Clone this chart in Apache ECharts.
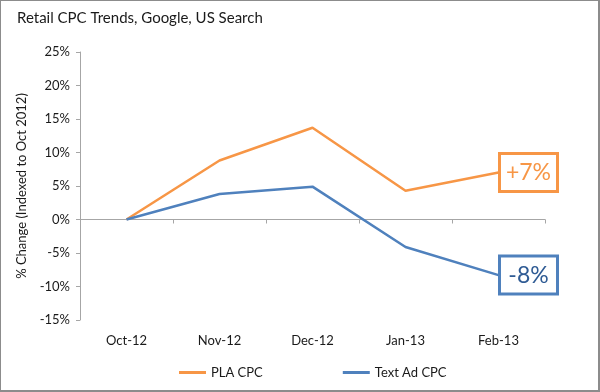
<!DOCTYPE html>
<html><head><meta charset="utf-8">
<script src="https://cdn.jsdelivr.net/npm/echarts@6/dist/echarts.min.js"></script>
<style>html,body{margin:0;padding:0;background:#fff}#c{width:600px;height:392px;box-sizing:border-box;border:1px solid #8c8c8c;border-right-width:2px;border-bottom-width:2px}</style>
</head><body><div id="c"></div>
<script>
const categories = ['Oct-12','Nov-12','Dec-12','Jan-13','Feb-13'];
const plaCpc = [0, 8.8, 13.7, 4.3, 7.0];
const textAdCpc = [0, 3.8, 4.9, -4.1, -8.3];
const plaLabel = '+7%';
const textLabel = '-8%';
const yTicks = {min: -15, max: 25, interval: 5};

const FONT = 'Lato, "Open Sans", sans-serif';
const chart = echarts.init(document.getElementById('c'), null, {renderer: 'canvas'});
function lastLabel(arr, text, color, textColor) {
  return arr.map((v, i) => i === arr.length - 1 ? {
    value: v,
    label: {show: true, position: 'inside', offset: [30, 0], formatter: text,
      color: textColor, fontSize: 23, fontFamily: FONT, backgroundColor: '#fff',
      borderColor: color, borderWidth: 3, padding: [7, 3, 5, 3], width: 49, align: 'center'}
  } : v);
}
chart.setOption({
  animation: false,
  title: {text: 'Retail CPC Trends, Google, US Search', left: 11, top: 5,
    textStyle: {fontSize: 15, fontWeight: 'normal', color: '#1a1a1a', fontFamily: FONT}},
  grid: {left: 79, right: 53, top: 51, bottom: 70, outerBoundsMode: 'none', containLabel: false},
  legend: {top: 360, left: 173, itemGap: 80, itemWidth: 27, itemHeight: 3,
    textStyle: {fontSize: 13, color: '#1a1a1a', fontFamily: FONT},
    icon: 'rect',
    data: ['PLA CPC', 'Text Ad CPC']},
  xAxis: [
    {type: 'category', data: categories, boundaryGap: true,
     axisLine: {onZero: true, lineStyle: {color: '#a6a6a6', width: 1}},
     axisTick: {show: true, length: 4, lineStyle: {color: '#a6a6a6'}},
     axisLabel: {show: false}},
    {type: 'category', data: categories, boundaryGap: true, position: 'bottom',
     axisLine: {show: false, onZero: false}, axisTick: {show: false},
     axisLabel: {color: '#1a1a1a', fontSize: 13, fontFamily: FONT, interval: 0, margin: 14}}
  ],
  yAxis: {type: 'value', min: yTicks.min, max: yTicks.max, interval: yTicks.interval,
    name: '% Change (Indexed to Oct 2012)', nameLocation: 'middle', nameGap: 52,
    nameTextStyle: {fontSize: 13, color: '#1a1a1a', fontFamily: FONT},
    axisLine: {show: true, lineStyle: {color: '#a6a6a6'}},
    axisTick: {show: true, length: 4, lineStyle: {color: '#a6a6a6'}},
    splitLine: {show: false},
    axisLabel: {formatter: v => v + '%', color: '#1a1a1a', fontSize: 13, fontFamily: FONT, margin: 10}},
  series: [
    {name: 'PLA CPC', type: 'line', xAxisIndex: 0, data: lastLabel(plaCpc, plaLabel, '#f79646', '#f79646'),
     symbol: 'circle', symbolSize: 0, showSymbol: true,
     lineStyle: {color: '#f79646', width: 2.5}, itemStyle: {color: '#f79646'}},
    {name: 'Text Ad CPC', type: 'line', xAxisIndex: 0, data: lastLabel(textAdCpc, textLabel, '#4f81bd', '#2f5b94'),
     symbol: 'circle', symbolSize: 0, showSymbol: true,
     lineStyle: {color: '#4f81bd', width: 2.5}, itemStyle: {color: '#4f81bd'}}
  ]
});
</script></body></html>
